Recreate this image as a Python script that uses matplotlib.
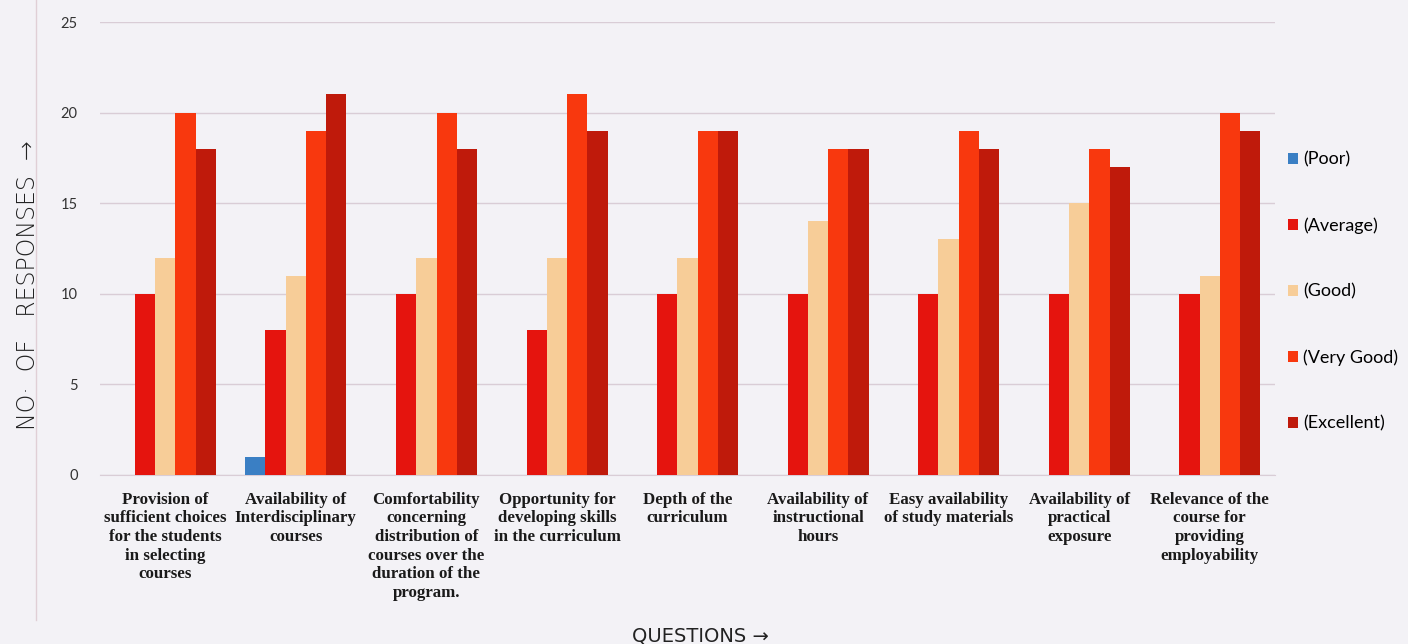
import matplotlib
matplotlib.use("Agg")
import matplotlib.pyplot as plt
import numpy as np

categories = [
    "Provision of\nsufficient choices\nfor the students\nin selecting\ncourses",
    "Availability of\nInterdisciplinary\ncourses",
    "Comfortability\nconcerning\ndistribution of\ncourses over the\nduration of the\nprogram.",
    "Opportunity for\ndeveloping skills\nin the curriculum",
    "Depth of the\ncurriculum",
    "Availability of\ninstructional\nhours",
    "Easy availability\nof study materials",
    "Availability of\npractical\nexposure",
    "Relevance of the\ncourse for\nproviding\nemployability",
]
series_names = ["(Poor)", "(Average)", "(Good)", "(Very Good)", "(Excellent)"]
poor = [0, 1, 0, 0, 0, 0, 0, 0, 0]
average = [10, 8, 10, 8, 10, 10, 10, 10, 10]
good = [12, 11, 12, 12, 12, 14, 13, 15, 11]
very_good = [20, 19, 20, 21, 19, 18, 19, 18, 20]
excellent = [18, 21, 18, 19, 19, 18, 18, 17, 19]
yticks = [0, 5, 10, 15, 20, 25]

colors = ["#3a7fc4", "#e5140e", "#f7cd98", "#f8380e", "#bf1a0b"]
paper = "#f3f2f6"

fig = plt.figure(figsize=(14.08, 6.44), dpi=100, facecolor=paper)
ax = fig.add_axes([100/1408, 1-475/644, 1175/1408, 453/644])
ax.set_facecolor(paper)

x = np.arange(len(categories))
w = 0.155
data = [poor, average, good, very_good, excellent]
for i, (vals, c, name) in enumerate(zip(data, colors, series_names)):
    ax.bar(x + (i - 2) * w, vals, width=w, color=c, label=name, zorder=3)

ax.set_xlim(-0.5, len(categories) - 0.5)
ax.set_ylim(0, 25)
ax.set_yticks(yticks)
ax.set_yticklabels([str(t) for t in yticks], fontfamily="Lato", fontsize=10.5, color="#333333")
ax.yaxis.grid(True, color="#d9cdd6", linewidth=1, zorder=0)
ax.tick_params(axis="y", length=0, pad=16)
ax.tick_params(axis="x", length=0, pad=12)
ax.set_xticks(x)
ax.set_xticklabels(categories, fontfamily="Liberation Serif", fontweight="bold",
                   fontsize=12.2, linespacing=1.22, color="#1a1a1a")
for s in ["top", "right", "left"]:
    ax.spines[s].set_visible(False)
ax.spines["bottom"].set_color("#d9cdd6")

leg = ax.legend(loc="center left", bbox_to_anchor=(1.0, 0.405), frameon=False,
                prop={"family": "Lato", "size": 13}, labelspacing=2.75,
                handlelength=0.55, handleheight=0.55, handletextpad=0.3,
                borderaxespad=0.3)

fig.text(28/1408, 1-285/644, "NO·  OF   RESPONSES  →", rotation=90, ha="center", va="center",
         fontfamily="DejaVu Sans", fontsize=17, fontweight="light", color="#222222")
fig.text(700/1408, 1-636/644, "QUESTIONS →", ha="center", va="center",
         fontfamily="DejaVu Sans", fontsize=14, color="#222222")
fig.add_artist(plt.Line2D([36/1408, 36/1408], [1-620/644, 1.0], transform=fig.transFigure,
                          color="#e0cfd6", linewidth=1))

fig.savefig("out.png", dpi=100, facecolor=paper)
